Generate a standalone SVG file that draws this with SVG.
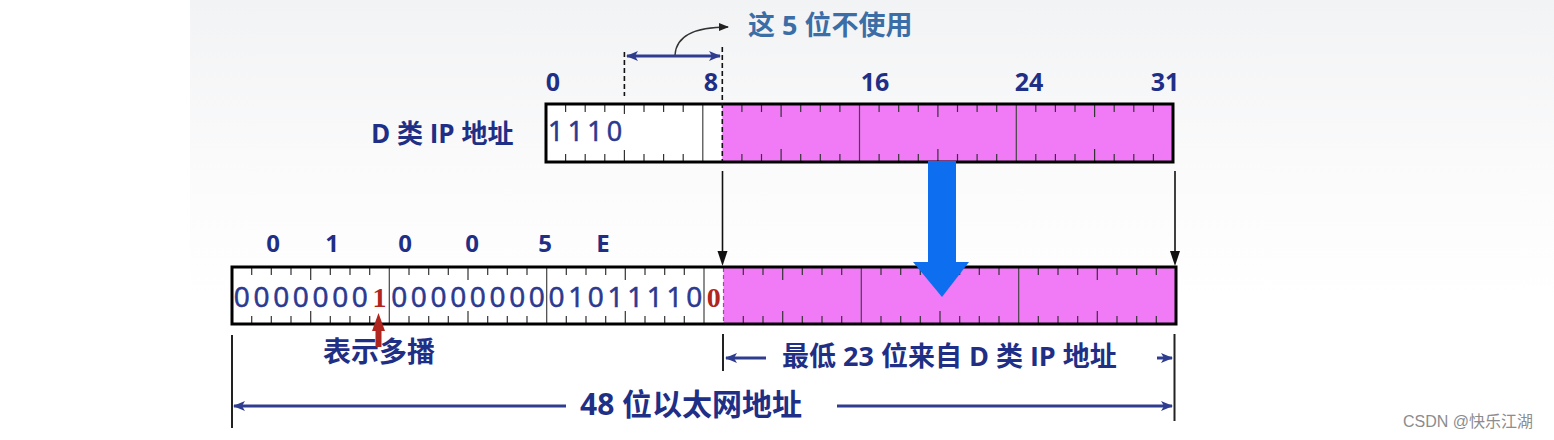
<svg xmlns="http://www.w3.org/2000/svg" width="1554" height="440" viewBox="0 0 1554 440">
<style>
.lbl{font-family:"Open Sans","Noto Sans CJK SC",sans-serif;font-weight:700;fill:#1f2f86}
.cjk{font-family:"Open Sans","Noto Sans CJK SC",sans-serif;font-weight:700;fill:#1f2f86}
.bits{font-family:"Open Sans","Noto Sans",sans-serif;font-size:28px;fill:#2b3990;stroke:#2b3990;stroke-width:0.6;text-anchor:middle}
.red{font-family:"Liberation Serif",serif;font-weight:700;font-size:28px;fill:#b0261e;text-anchor:middle}
.reg{fill:none;stroke:#000;stroke-width:3}
.tick{stroke:#333;stroke-width:1.2;fill:none}
.byte{stroke:#444;stroke-width:1.2}
.pink{fill:#f17bf6}
.dim{stroke:#2e3d8f;stroke-width:3;fill:none}
.thin{stroke:#111;stroke-width:1.6;fill:none}
.ext{stroke:#222;stroke-width:2}
</style>
<defs>
<linearGradient id="bg" x1="0" y1="0" x2="0" y2="1">
<stop offset="0" stop-color="#f2f3f4"/>
<stop offset="0.6" stop-color="#fbfbfc"/>
<stop offset="1" stop-color="#ffffff"/>
</linearGradient>
<marker id="ah" viewBox="0 0 12 10" refX="11" refY="5" markerWidth="12" markerHeight="10" markerUnits="userSpaceOnUse" orient="auto-start-reverse">
<path d="M0,0 L12,5 L0,10 L3,5 Z" fill="#2e3d8f"/>
</marker>
<marker id="ahk" viewBox="0 0 10 8" refX="9" refY="4" markerWidth="10" markerHeight="8" markerUnits="userSpaceOnUse" orient="auto">
<path d="M0,0 L10,4 L0,8 Z" fill="#222"/>
</marker>
</defs>
<rect x="0" y="0" width="1554" height="440" fill="#ffffff"/>
<rect x="190" y="0" width="1364" height="300" fill="url(#bg)"/>

<!-- top register: D class IP -->
<g id="ip-register">
<rect x="546" y="104" width="627" height="58" fill="#ffffff"/>
<rect class="pink" x="722.3" y="104" width="450.7" height="58"/>
<path class="tick" d="M565.6,104v8M585.2,104v8M604.8,104v8M624.4,104v13M644,104v8M663.6,104v8M683.2,104v8M741.9,104v8M761.5,104v8M781.1,104v13M800.7,104v8M820.3,104v8M839.9,104v8M879.1,104v8M898.7,104v8M918.3,104v8M937.9,104v13M957.5,104v8M977.1,104v8M996.7,104v8M1035.8,104v8M1055.4,104v8M1075,104v8M1094.6,104v13M1114.2,104v8M1133.8,104v8M1153.4,104v8"/>
<path class="tick" d="M565.6,162v-8M585.2,162v-8M604.8,162v-8M624.4,162v-13M644,162v-8M663.6,162v-8M683.2,162v-8M741.9,162v-8M761.5,162v-8M781.1,162v-13M800.7,162v-8M820.3,162v-8M839.9,162v-8M879.1,162v-8M898.7,162v-8M918.3,162v-8M937.9,162v-13M957.5,162v-8M977.1,162v-8M996.7,162v-8M1035.8,162v-8M1055.4,162v-8M1075,162v-8M1094.6,162v-13M1114.2,162v-8M1133.8,162v-8M1153.4,162v-8"/>
<path class="byte" d="M702.8,104V162M859.5,104V162M1016.3,104V162"/>
<rect x="548" y="114" width="145" height="36" fill="#ffffff"/>
<text class="bits" x="555.8 575.4 595 614.6" y="141" style="font-size:27px">1110</text>
<rect class="reg" x="546" y="104" width="627" height="58"/>
</g>

<g id="ip-label">
<text class="cjk" x="371" y="143" font-size="26">D 类 IP 地址</text>
</g>

<g id="bit-numbers">
<text class="lbl" x="553" y="91" font-size="25" text-anchor="middle">0</text>
<text class="lbl" x="711" y="91" font-size="25" text-anchor="middle">8</text>
<text class="lbl" x="875" y="91" font-size="25" text-anchor="middle">16</text>
<text class="lbl" x="1029" y="91" font-size="25" text-anchor="middle">24</text>
<text class="lbl" x="1165" y="91" font-size="25" text-anchor="middle">31</text>
</g>

<g id="unused-note">
<text x="748" y="35" font-family="'Open Sans','Noto Sans CJK SC',sans-serif" font-weight="700" font-size="27" fill="#3b6ea6">这 5 位不使用</text>
</g>

<!-- bottom register: Ethernet multicast address -->
<g id="mac-register">
<rect x="232" y="267" width="944" height="57" fill="#ffffff"/>
<rect class="pink" x="723.5" y="267" width="452.5" height="57"/>
<path class="tick" d="M251.7,267v8M271.3,267v8M291,267v8M310.7,267v13M330.3,267v8M350,267v8M369.7,267v8M409,267v8M428.7,267v8M448.3,267v8M468,267v13M487.7,267v8M507.3,267v8M527,267v8M566.3,267v8M586,267v8M605.7,267v8M625.3,267v13M645,267v8M664.7,267v8M684.3,267v8M743.3,267v8M763,267v8M782.7,267v13M802.3,267v8M822,267v8M841.7,267v8M881,267v8M900.7,267v8M920.3,267v8M940,267v13M959.7,267v8M979.3,267v8M999,267v8M1038.3,267v8M1058,267v8M1077.7,267v8M1097.3,267v13M1117,267v8M1136.7,267v8M1156.3,267v8"/>
<path class="tick" d="M251.7,324v-8M271.3,324v-8M291,324v-8M310.7,324v-13M330.3,324v-8M350,324v-8M369.7,324v-8M409,324v-8M428.7,324v-8M448.3,324v-8M468,324v-13M487.7,324v-8M507.3,324v-8M527,324v-8M566.3,324v-8M586,324v-8M605.7,324v-8M625.3,324v-13M645,324v-8M664.7,324v-8M684.3,324v-8M743.3,324v-8M763,324v-8M782.7,324v-13M802.3,324v-8M822,324v-8M841.7,324v-8M881,324v-8M900.7,324v-8M920.3,324v-8M940,324v-13M959.7,324v-8M979.3,324v-8M999,324v-8M1038.3,324v-8M1058,324v-8M1077.7,324v-8M1097.3,324v-13M1117,324v-8M1136.7,324v-8M1156.3,324v-8"/>
<path class="byte" d="M389.3,267V324M546.7,267V324M704,267V324M861.3,267V324M1018.7,267V324"/>
<path d="M723.5,268V323" stroke="#b03cb0" stroke-width="1.2" stroke-dasharray="4,3"/>
<text class="bits" x="241.8 261.5 281.2 300.8 320.5 340.2 359.8" y="307">0000000</text>
<text class="red" x="379.5" y="306.5">1</text>
<text class="bits" x="399.2 418.8 438.5 458.2 477.8 497.5 517.2 536.8" y="307">00000000</text>
<text class="bits" x="556.5 576.2 595.8 615.5 635.2 654.8 674.5 694.2" y="307">01011110</text>
<text class="red" x="713.8" y="306.5">0</text>
<rect class="reg" x="232" y="267" width="944" height="57"/>
</g>

<g id="hex-labels">
<text class="lbl" x="273" y="252" font-size="24" text-anchor="middle">0</text>
<text class="lbl" x="332" y="252" font-size="24" text-anchor="middle">1</text>
<text class="lbl" x="405" y="252" font-size="24" text-anchor="middle">0</text>
<text class="lbl" x="472" y="252" font-size="24" text-anchor="middle">0</text>
<text class="lbl" x="545" y="252" font-size="24" text-anchor="middle">5</text>
<text class="lbl" x="603" y="252" font-size="24" text-anchor="middle">E</text>
</g>

<g id="multicast-note">
<text class="cjk" x="323" y="362" font-size="28">表示多播</text>
</g>

<g id="low23-label">
<text class="cjk" x="782" y="366" font-size="27">最低 23 位来自 D 类 IP 地址</text>
</g>

<g id="mac48-label">
<text class="cjk" x="580" y="415" font-size="30">48 位以太网地址</text>
</g>

<g id="connectors">
<!-- unused 5 bits marker -->
<path d="M624.4,52V96" stroke="#111" stroke-width="1.6" stroke-dasharray="5,3"/>
<path d="M722.3,47V162" stroke="#111" stroke-width="1.6" stroke-dasharray="5,3"/>
<path class="dim" d="M627,56H720" marker-start="url(#ah)" marker-end="url(#ah)"/>
<path d="M675,55 C676,38 690,27 728,27" stroke="#333" stroke-width="1.4" fill="none" marker-end="url(#ahk)"/>
<!-- big blue arrow -->
<path d="M928,161H956V262H969L942,297L913,262H928Z" fill="#0d6ff0"/>
<!-- thin mapping arrows -->
<path class="thin" d="M722.5,171V256"/>
<path d="M717.5,251H727.5L722.5,266Z" fill="#111"/>
<path class="thin" d="M1175,171V256"/>
<path d="M1170,251H1180L1175,266Z" fill="#111"/>
<!-- red arrow -->
<path d="M375.5,347V331H372L378.5,313L385,331H381.5V347Z" fill="#b0261e"/>
<!-- extension lines -->
<path class="ext" d="M232,335V428M723,334V371M1174.5,334V421"/>
<!-- dimension arrows -->
<path class="dim" d="M766,358H726" marker-end="url(#ah)"/>
<path class="dim" d="M1157,358H1172" marker-end="url(#ah)"/>
<path class="dim" d="M566,406H234" marker-end="url(#ah)"/>
<path class="dim" d="M837,406H1172" marker-end="url(#ah)"/>
</g>

<text x="1403" y="427" font-family="'Liberation Sans','Noto Sans CJK SC',sans-serif" font-size="16" fill="#8c8c8c">CSDN @快乐江湖</text>
</svg>
